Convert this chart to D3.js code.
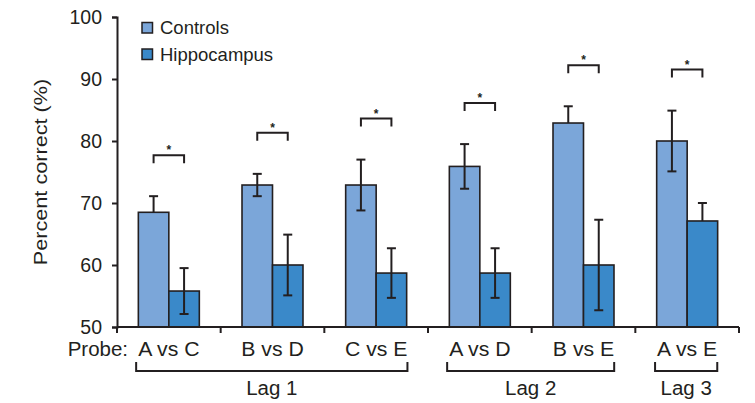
<!DOCTYPE html>
<html>
<head>
<meta charset="utf-8">
<script src="https://cdn.jsdelivr.net/npm/d3@7"></script>
<style>
  html, body { margin: 0; padding: 0; background: #fff; }
  svg { display: block; font-family: "Liberation Sans", Arial, Helvetica, sans-serif; }
</style>
</head>
<body>
<svg id="chart" width="755" height="403"></svg>
<script>
// Probe pairs and their lag groups
const probes = ["A vs C", "B vs D", "C vs E", "A vs D", "B vs E", "A vs E"];
const lags = [
  { label: "Lag 1", from: 0, to: 2 },
  { label: "Lag 2", from: 3, to: 4 },
  { label: "Lag 3", from: 5, to: 5 }
];
const seriesNames = ["Controls", "Hippocampus"];

// Mean percent correct and standard error for each probe
const controls = [68.5, 72.9, 72.9, 75.9, 82.9, 80.0];
const controlsErr = [2.6, 1.8, 4.1, 3.6, 2.7, 4.9];
const hippocampus = [55.8, 60.0, 58.7, 58.7, 60.0, 67.1];
const hippocampusErr = [3.7, 4.9, 4.0, 4.0, 7.3, 2.9];
// Whether the lower whisker is drawn over the bar
const controlsLower = [false, true, true, true, false, true];
const hippocampusLower = [true, true, true, true, true, false];

const yTicks = [50, 60, 70, 80, 90, 100];
const colors = ["#7ba6d9", "#3a89c9"];
const ink = "#231f20";
const fs = 19.5;
const wide = 1.09; // horizontal stretch of the label face

const svg = d3.select("#chart");
const margin = { left: 117, right: 16, top: 17, bottom: 76 };
const W = 755, H = 403;

const x = d3.scaleBand().domain(probes).range([margin.left, W - margin.right]).paddingInner(0).paddingOuter(0);
const xs = d3.scaleBand().domain(seriesNames).range([0, x.bandwidth()]).paddingInner(0).paddingOuter(0.7);
const y = d3.scaleLinear().domain([50, 100]).range([H - margin.bottom, margin.top]);

// Text placed at (tx, ty), stretched horizontally along its baseline
function label(parent, tx, ty, str, opts = {}) {
  const g = parent.append("g")
    .attr("transform", `translate(${tx},${ty})${opts.rotate ? ` rotate(${opts.rotate})` : ""} scale(${opts.sx || wide},1)`);
  return g.append("text")
    .attr("text-anchor", opts.anchor || "middle")
    .attr("font-size", opts.size || fs)
    .attr("fill", ink)
    .text(str);
}

// Y axis
const yAxis = svg.append("g")
  .attr("transform", `translate(${margin.left},0)`)
  .call(d3.axisLeft(y).tickValues(yTicks).tickSize(5).tickPadding(10));
yAxis.select(".domain").attr("stroke", ink).attr("stroke-width", 2);
yAxis.selectAll(".tick line").attr("stroke", ink).attr("stroke-width", 2);
yAxis.selectAll(".tick text").attr("font-size", fs).attr("fill", ink)
  .attr("font-family", "Liberation Sans, Arial, sans-serif");

label(svg, 47, (y(50) + y(100)) / 2, "Percent correct (%)", { rotate: -90, size: 19, sx: 1.14 });

// Bars
const series = [
  { name: seriesNames[0], vals: controls, err: controlsErr, lower: controlsLower, color: colors[0] },
  { name: seriesNames[1], vals: hippocampus, err: hippocampusErr, lower: hippocampusLower, color: colors[1] }
];

const groups = svg.append("g").selectAll("g")
  .data(probes)
  .join("g")
  .attr("transform", d => `translate(${x(d)},0)`);

series.forEach(s => {
  groups.append("rect")
    .attr("x", xs(s.name))
    .attr("width", xs.bandwidth())
    .attr("y", (d, i) => y(s.vals[i]))
    .attr("height", (d, i) => y(50) - y(s.vals[i]))
    .attr("fill", s.color)
    .attr("stroke", ink)
    .attr("stroke-width", 1.6);
});

// Error bars
series.forEach(s => {
  const cx = xs(s.name) + xs.bandwidth() / 2;
  groups.append("line")
    .attr("x1", cx).attr("x2", cx)
    .attr("y1", (d, i) => y(s.vals[i] + s.err[i]))
    .attr("y2", (d, i) => s.lower[i] ? y(s.vals[i] - s.err[i]) : y(s.vals[i]))
    .attr("stroke", ink).attr("stroke-width", 2);
  groups.append("line")
    .attr("x1", cx - 4.5).attr("x2", cx + 4.5)
    .attr("y1", (d, i) => y(s.vals[i] + s.err[i]))
    .attr("y2", (d, i) => y(s.vals[i] + s.err[i]))
    .attr("stroke", ink).attr("stroke-width", 2);
  groups.filter((d, i) => s.lower[i]).append("line")
    .attr("x1", cx - 4.5).attr("x2", cx + 4.5)
    .attr("y1", d => { const i = probes.indexOf(d); return y(s.vals[i] - s.err[i]); })
    .attr("y2", d => { const i = probes.indexOf(d); return y(s.vals[i] - s.err[i]); })
    .attr("stroke", ink).attr("stroke-width", 2);
});

// Significance brackets above each pair
const c0 = xs(seriesNames[0]) + xs.bandwidth() / 2;
const c1 = xs(seriesNames[1]) + xs.bandwidth() / 2;
groups.each(function (d, i) {
  const top = Math.max(controls[i] + controlsErr[i], hippocampus[i] + hippocampusErr[i]);
  const by = y(top) - 41;
  const g = d3.select(this);
  g.append("path")
    .attr("d", `M${c0},${by + 8}V${by}H${c1}V${by + 8}`)
    .attr("fill", "none").attr("stroke", ink).attr("stroke-width", 2);
  g.append("text")
    .attr("x", (c0 + c1) / 2).attr("y", by - 1)
    .attr("text-anchor", "middle")
    .attr("font-size", 12).attr("font-weight", "bold")
    .attr("fill", ink)
    .text("*");
});

// X axis
const xAxisY = y(50);
svg.append("line")
  .attr("x1", margin.left).attr("x2", W - margin.right)
  .attr("y1", xAxisY).attr("y2", xAxisY)
  .attr("stroke", ink).attr("stroke-width", 2);
const xTickPos = probes.map(p => x(p)).concat([x(probes[probes.length - 1]) + x.bandwidth()]);
svg.append("g").selectAll("line")
  .data(xTickPos)
  .join("line")
  .attr("x1", d => d).attr("x2", d => d)
  .attr("y1", xAxisY).attr("y2", xAxisY + 6)
  .attr("stroke", ink).attr("stroke-width", 2);

const labelY = 356;
const probeLabels = probes.map(p => label(svg, x(p) + x.bandwidth() / 2, labelY, p));
label(svg, 128, labelY, "Probe:", { anchor: "end", sx: 1.05 });

// Lag brackets spanning their probe labels
const spans = probeLabels.map((t, i) => {
  const cx = x(probes[i]) + x.bandwidth() / 2;
  const half = t.node().getComputedTextLength() * wide / 2;
  return [cx - half, cx + half];
});
const lagY = 371;
lags.forEach(l => {
  const x0 = spans[l.from][0] - 2;
  const x1 = spans[l.to][1];
  svg.append("path")
    .attr("d", `M${x0},${lagY - 9}V${lagY}H${x1}V${lagY - 9}`)
    .attr("fill", "none").attr("stroke", ink).attr("stroke-width", 2);
  label(svg, (x0 + x1) / 2, 395, l.label, { sx: 1.05 });
});

// Legend
const legend = svg.append("g").attr("transform", "translate(142,22.5)");
seriesNames.forEach((n, i) => {
  const g = legend.append("g").attr("transform", `translate(0,${i * 26.5})`);
  g.append("rect").attr("width", 10.5).attr("height", 10.5)
    .attr("fill", colors[i]).attr("stroke", ink).attr("stroke-width", 1.5);
  g.append("text").attr("x", 18).attr("y", 11.5)
    .attr("font-size", 18.5).attr("fill", ink)
    .text(n);
});
</script>
</body>
</html>
